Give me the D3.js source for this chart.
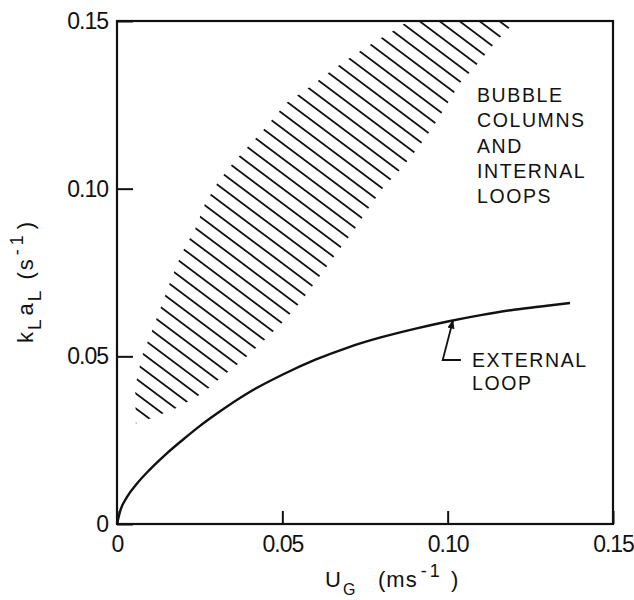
<!DOCTYPE html>
<html>
<head>
<meta charset="utf-8">
<script src="https://cdn.jsdelivr.net/npm/d3@7"></script>
<style>
  body { margin: 0; background: #fff; }
  text { font-family: "Liberation Sans", Arial, sans-serif; fill: #111; }
</style>
</head>
<body>
<svg id="chart" width="634" height="600"></svg>
<script>
// Axis ticks
const xTicks = [0, 0.05, 0.10, 0.15];
const xTickLabels = ["0", "0.05", "0.10", "0.15"];
const yTicks = [0, 0.05, 0.10, 0.15];
const yTickLabels = ["0", "0.05", "0.10", "0.15"];

// External loop: kLaL vs UG
const extUG  = [0, 0.001, 0.003, 0.006, 0.010, 0.015, 0.020, 0.025, 0.030, 0.040, 0.050,
                0.060, 0.070, 0.080, 0.090, 0.100, 0.110, 0.120, 0.130, 0.137];
const extKLa = [0, 0.0040, 0.0080, 0.0120, 0.0163, 0.0210, 0.0252, 0.0292, 0.0328, 0.0393, 0.0445,
                0.0490, 0.0527, 0.0557, 0.0582, 0.0604, 0.0623, 0.0639, 0.0651, 0.0659];

// Bubble columns and internal loops: upper edge of the band
const bandUpperUG  = [0.0057, 0.0055, 0.0075, 0.0105, 0.0135, 0.0165, 0.0198, 0.0236, 0.0266,
                      0.0306, 0.0357, 0.0438, 0.0513, 0.0584, 0.0644, 0.0710, 0.0780, 0.0850, 0.0880];
const bandUpperKLa = [0.0300, 0.0409, 0.0499, 0.0574, 0.0653, 0.0733, 0.0812, 0.0879, 0.0954,
                      0.1021, 0.1083, 0.1170, 0.1256, 0.1304, 0.1349, 0.1394, 0.1438, 0.1479, 0.1500];
// ...and lower edge of the band
const bandLowerUG  = [0.0057, 0.0105, 0.0180, 0.0260, 0.0317, 0.0381, 0.0441, 0.0498, 0.0553,
                      0.0614, 0.0664, 0.0714, 0.0759, 0.0804, 0.0861, 0.0910, 0.0956, 0.0997,
                      0.1037, 0.1087, 0.1143, 0.1194, 0.1204];
const bandLowerKLa = [0.0300, 0.0316, 0.0346, 0.0391, 0.0439, 0.0489, 0.0544, 0.0599, 0.0660,
                      0.0740, 0.0808, 0.0872, 0.0939, 0.1002, 0.1062, 0.1121, 0.1185, 0.1250,
                      0.1315, 0.1369, 0.1435, 0.1488, 0.1500];

// Annotations
const bandLabel = ["BUBBLE", "COLUMNS", "AND", "INTERNAL", "LOOPS"];
const extLabel = ["EXTERNAL", "LOOP"];
const arrowTipUG = 0.1016;            // point on the external-loop curve the leader points at
const arrowCorner = [0.0985, 0.0489]; // bend of the leader line
const arrowTail = [0.1040, 0.0489];

const svg = d3.select("#chart");
const x = d3.scaleLinear().domain([0, 0.15]).range([117, 613]);
const y = d3.scaleLinear().domain([0, 0.15]).range([524, 21]);

// Hatched band
const upperPts = bandUpperUG.map((u, i) => [x(u), y(bandUpperKLa[i])]);
const lowerPts = bandLowerUG.map((u, i) => [x(u), y(bandLowerKLa[i])]);
const bandPoly = upperPts.concat(lowerPts.slice().reverse());

const defs = svg.append("defs");
defs.append("clipPath").attr("id", "bandClip")
  .append("path")
  .attr("d", d3.line().curve(d3.curveLinearClosed)(bandPoly));

defs.append("marker")
  .attr("id", "arrowHead")
  .attr("viewBox", "0 0 10 10")
  .attr("refX", 9).attr("refY", 5)
  .attr("markerWidth", 9).attr("markerHeight", 9)
  .attr("markerUnits", "userSpaceOnUse")
  .attr("orient", "auto")
  .append("path").attr("d", "M0,1 L10,5 L0,9 Z").attr("fill", "#111");

const slope = 0.75;   // hatch direction (down to the right)
const gap = 15;       // vertical spacing between hatch lines
const [tipX, tipY] = upperPts[0];
const c0 = tipY - slope * tipX;
const hatch = d3.range(0, 70).map(k => c0 - k * gap);
svg.append("g").attr("clip-path", "url(#bandClip)")
  .selectAll("line").data(hatch).join("line")
  .attr("x1", x(0)).attr("y1", c => c + slope * x(0))
  .attr("x2", x(0.15)).attr("y2", c => c + slope * x(0.15))
  .attr("stroke", "#111").attr("stroke-width", 1.8);

// External loop curve
svg.append("path")
  .datum(extUG.map((u, i) => [u, extKLa[i]]))
  .attr("fill", "none").attr("stroke", "#111").attr("stroke-width", 2.4)
  .attr("d", d3.line().x(d => x(d[0])).y(d => y(d[1])).curve(d3.curveMonotoneX));

// Axes (inward ticks)
const xAxis = d3.axisBottom(x).tickValues(xTicks)
  .tickFormat((d, i) => xTickLabels[i]).tickSize(-13).tickPadding(12);
const yAxis = d3.axisLeft(y).tickValues(yTicks)
  .tickFormat((d, i) => yTickLabels[i]).tickSize(-16).tickPadding(9);

const gx = svg.append("g").attr("transform", `translate(0,${y(0)})`).call(xAxis);
const gy = svg.append("g").attr("transform", `translate(${x(0)},0)`).call(yAxis);
[gx, gy].forEach(g => {
  g.select(".domain").remove();
  g.selectAll(".tick line").attr("stroke", "#111").attr("stroke-width", 2);
  g.selectAll(".tick text")
    .attr("fill", "#111")
    .style("font-family", '"Liberation Sans", Arial, sans-serif')
    .style("font-size", "23px")
    .style("letter-spacing", "-1px");
});

// Frame
svg.append("rect")
  .attr("x", x(0)).attr("y", y(0.15))
  .attr("width", x(0.15) - x(0)).attr("height", y(0) - y(0.15))
  .attr("fill", "none").attr("stroke", "#111").attr("stroke-width", 2.2);

// X axis title: U_G (ms^-1)
const xt = svg.append("text").attr("y", 587).style("font-size", "22px");
xt.append("tspan").attr("x", 325).text("U");
xt.append("tspan").attr("x", 343).attr("dy", 8).style("font-size", "16px").text("G");
xt.append("tspan").attr("x", 378).attr("dy", -8).style("letter-spacing", "1px").text("(ms");
xt.append("tspan").attr("dx", 3).attr("dy", -10).style("font-size", "18px").style("letter-spacing", "3px").text("-1");
xt.append("tspan").attr("x", 451).attr("dy", 10).text(")");

// Y axis title: kLaL (s^-1)
const yt = svg.append("text")
  .attr("transform", "translate(33,343) rotate(-90)")
  .style("font-size", "22px");
yt.append("tspan").text("k");
yt.append("tspan").attr("dx", 2).attr("dy", 8).style("font-size", "19px").text("L");
yt.append("tspan").attr("dx", 4).attr("dy", -8).text("a");
yt.append("tspan").attr("dx", 2).attr("dy", 8).style("font-size", "19px").text("L");
yt.append("tspan").attr("dx", 11).attr("dy", -8).style("letter-spacing", "2px").text("(s");
yt.append("tspan").attr("dx", 2).attr("dy", -10).style("font-size", "18px").style("letter-spacing", "4px").text("-1");
yt.append("tspan").attr("dx", 2).attr("dy", 10).text(")");

// Band label
svg.append("g").selectAll("text").data(bandLabel).join("text")
  .attr("x", 477).attr("y", (d, i) => 102 + i * 25.3)
  .style("font-size", "19.5px").style("letter-spacing", "1.6px")
  .text(d => d);

// External loop label with leader arrow
svg.append("g").selectAll("text").data(extLabel).join("text")
  .attr("x", 472).attr("y", (d, i) => 367 + i * 23)
  .style("font-size", "19.5px").style("letter-spacing", "1.6px")
  .text(d => d);

const tipKLa = d3.scaleLinear().domain(extUG).range(extKLa)(arrowTipUG);
svg.append("path")
  .attr("fill", "none").attr("stroke", "#111").attr("stroke-width", 1.8)
  .attr("marker-end", "url(#arrowHead)")
  .attr("d", d3.line()([
    [x(arrowTail[0]), y(arrowTail[1])],
    [x(arrowCorner[0]), y(arrowCorner[1])],
    [x(arrowTipUG), y(tipKLa)]
  ]));
</script>
</body>
</html>
